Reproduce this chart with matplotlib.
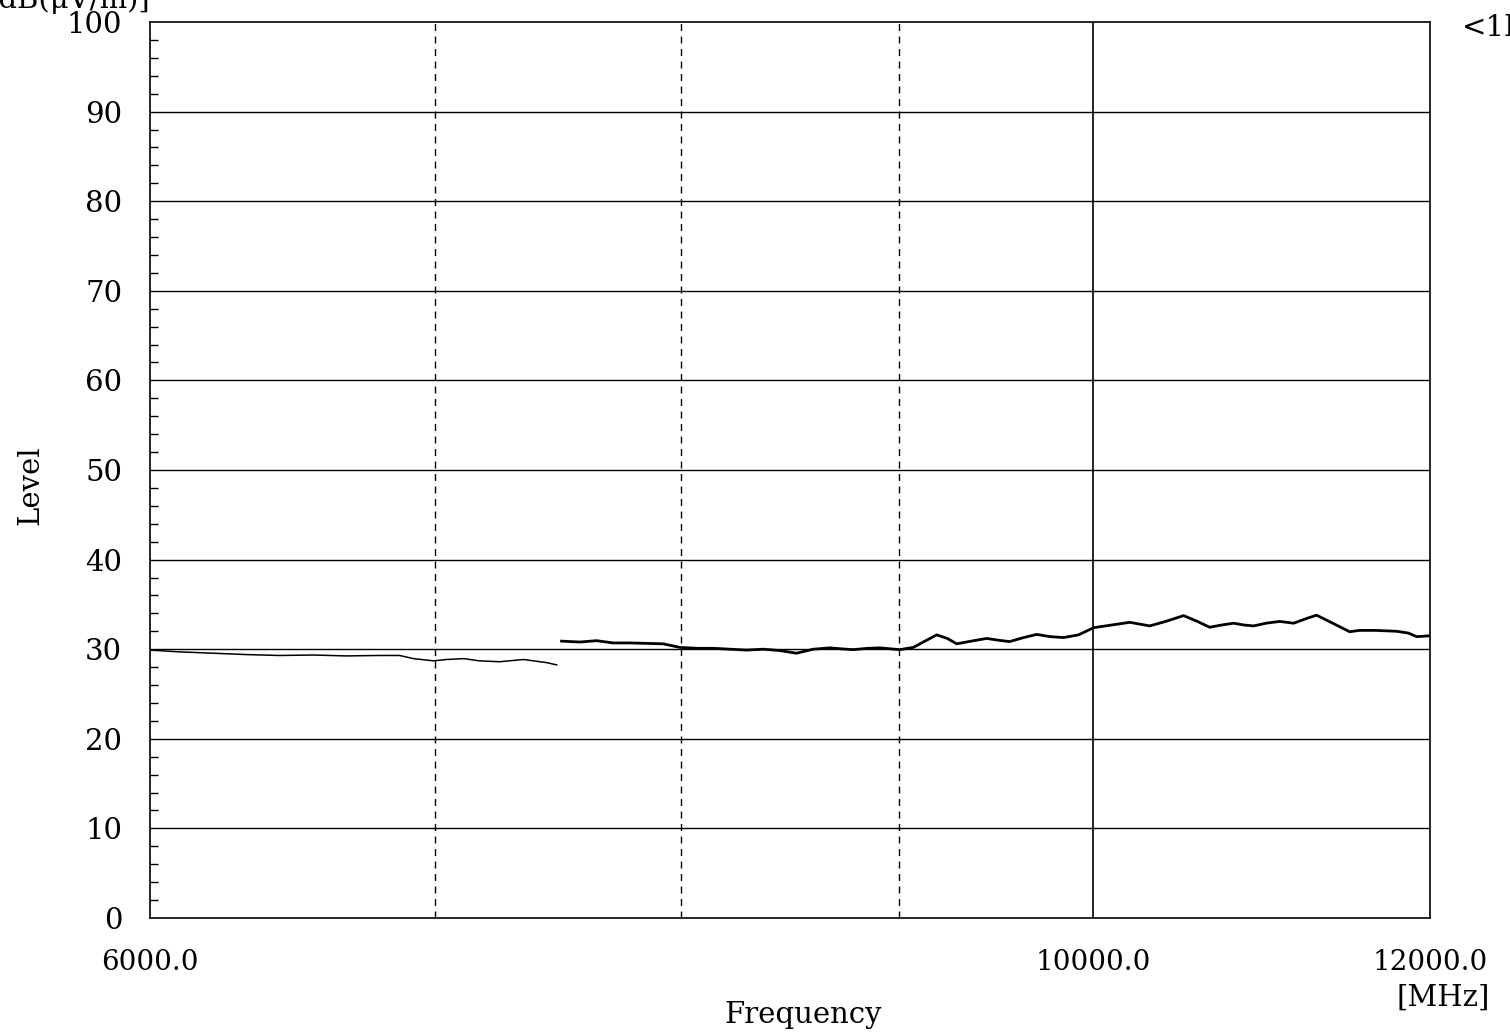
import matplotlib
matplotlib.use("Agg")
import matplotlib.pyplot as plt
from matplotlib.ticker import FixedLocator, MultipleLocator, NullLocator

# ---- data ----
seg1_freq = [6000, 6097, 6210, 6322, 6435, 6556, 6674, 6794, 6868, 6920, 6996,
             7045, 7111, 7172, 7250, 7345, 7438, 7478]
seg1_level = [29.9, 29.7, 29.55, 29.4, 29.3, 29.35, 29.25, 29.3, 29.3, 28.95, 28.7,
              28.85, 28.95, 28.7, 28.6, 28.85, 28.5, 28.25]

seg2_freq = [7498, 7572, 7641, 7710, 7780, 7851, 7922, 7994, 8070, 8140, 8215, 8288,
             8363, 8438, 8515, 8593, 8670, 8720, 8781, 8850, 8908, 9005, 9071, 9137,
             9187, 9240, 9287, 9360, 9439, 9500, 9557, 9630, 9698, 9770, 9841, 9920,
             10002, 10100, 10199, 10310, 10400, 10501, 10580, 10650, 10720, 10790,
             10850, 10907, 10980, 11062, 11146, 11220, 11285, 11340, 11390, 11489,
             11551, 11650, 11785, 11860, 11914, 12000]
seg2_level = [30.9, 30.8, 30.95, 30.7, 30.7, 30.65, 30.6, 30.2, 30.1, 30.1, 30.0, 29.9,
              30.0, 29.85, 29.55, 30.0, 30.15, 30.05, 29.95, 30.1, 30.15, 29.95, 30.2, 31.0,
              31.6, 31.2, 30.6, 30.9, 31.2, 31.0, 30.85, 31.3, 31.65, 31.4, 31.3, 31.6,
              32.4, 32.7, 33.0, 32.6, 33.1, 33.75, 33.1, 32.45, 32.7, 32.9,
              32.7, 32.6, 32.9, 33.1, 32.9, 33.4, 33.8, 33.3, 32.85, 31.95,
              32.1, 32.1, 32.0, 31.8, 31.4, 31.5]

y_ticks = [0, 10, 20, 30, 40, 50, 60, 70, 80, 90, 100]
x_ticks = [6000, 10000, 12000]
x_tick_labels = ["6000.0", "10000.0", "12000.0"]
dashed_grid = [7000, 8000, 9000]
solid_grid = [10000]

# ---- figure ----
W, H = 1510, 1034
fig = plt.figure(figsize=(W / 100, H / 100), dpi=100)
fig.patch.set_facecolor("white")
FONT = "DejaVu Serif"

ax = fig.add_axes([150 / W, 1 - 918 / H, 1280 / W, 896 / H])
ax.set_xscale("log")
ax.set_xlim(6000, 12000)
ax.set_ylim(0, 100)

for s in ax.spines.values():
    s.set_color("black")
    s.set_linewidth(1.2)

# grid
for yv in y_ticks[1:-1]:
    ax.axhline(yv, color="black", lw=1.0, zorder=1)
for xv in dashed_grid:
    ax.axvline(xv, color="black", lw=1.0, ls=(0, (5, 4)), zorder=1)
for xv in solid_grid:
    ax.axvline(xv, color="black", lw=1.2, zorder=1)

# traces
ax.plot(seg1_freq, seg1_level, color="black", lw=1.1, zorder=3)
ax.plot(seg2_freq, seg2_level, color="black", lw=2.0, zorder=3)

# ticks
ax.xaxis.set_major_locator(FixedLocator(x_ticks))
ax.xaxis.set_minor_locator(NullLocator())
ax.set_xticklabels(x_tick_labels, fontfamily=FONT, fontsize=20)
ax.tick_params(axis="x", which="both", length=0, pad=22)

ax.yaxis.set_major_locator(FixedLocator(y_ticks))
ax.yaxis.set_minor_locator(MultipleLocator(2))
ax.set_yticklabels([str(v) for v in y_ticks], fontfamily=FONT, fontsize=21)
ax.tick_params(axis="y", which="major", length=0, pad=20)
ax.tick_params(axis="y", which="minor", direction="in", length=6, width=1.0, color="black")

# labels
fig.text(30 / W, 1 - 485 / H, "Level", rotation=90, ha="center", va="center",
         fontfamily=FONT, fontsize=21)
fig.text(803 / W, 1 - 1015 / H, "Frequency", ha="center", va="center",
         fontfamily=FONT, fontsize=21)
fig.text(1443 / W, 1 - 998 / H, "[MHz]", ha="center", va="center",
         fontfamily=FONT, fontsize=21)
fig.text(-12 / W, 1 - 8 / H, "[dB(μV/m)]", ha="left", va="baseline",
         fontfamily=FONT, fontsize=21)
fig.text(1462 / W, 1 - 28 / H, "<1E", ha="left", va="center",
         fontfamily=FONT, fontsize=21)

fig.savefig("out.png", dpi=100, facecolor="white")
